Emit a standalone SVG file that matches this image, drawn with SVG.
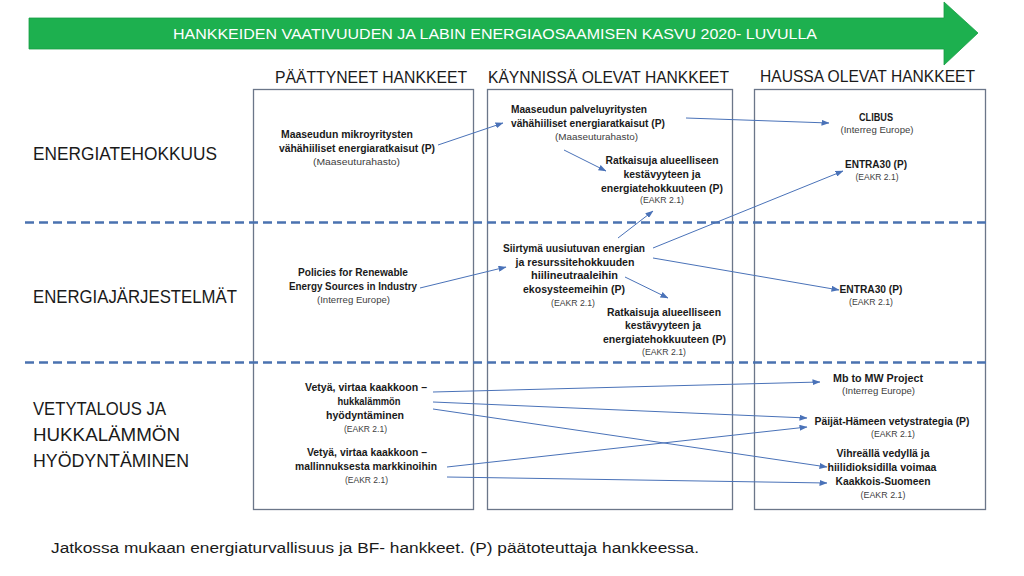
<svg xmlns="http://www.w3.org/2000/svg" width="1024" height="576" viewBox="0 0 1024 576">
<style>
text{font-family:"Liberation Sans",Arial,sans-serif;fill:#1a1a1a}
.title{font-size:15px;fill:#ffffff}
.hdr{font-size:17px}
.row{font-size:19px}
.b{font-size:10px;font-weight:bold}
.s{font-size:8.5px;fill:#404040}
.foot{font-size:15.5px}
.box{fill:none;stroke:#6b7689;stroke-width:1.3}
.dash{stroke:#4a72b0;stroke-width:2.6;stroke-dasharray:9 5;fill:none}
.conn line{stroke:#4a72b8;stroke-width:1;marker-end:url(#ah)}
</style>
<defs>
<marker id="ah" markerUnits="userSpaceOnUse" markerWidth="8" markerHeight="6" refX="7.5" refY="3" orient="auto">
<path d="M0,0 L8,3 L0,6 z" fill="#4a72b8"/>
</marker>
</defs>
<rect width="1024" height="576" fill="#ffffff"/>

<g id="banner">
<path d="M29,18 L944,18 L944,2 L978,33 L944,65 L944,49 L29,49 z" fill="#1db04f" stroke="#17a044" stroke-width="0.8"/>
<text class="title" x="173" y="38.5" textLength="644" lengthAdjust="spacingAndGlyphs">HANKKEIDEN VAATIVUUDEN JA LABIN ENERGIAOSAAMISEN KASVU 2020- LUVULLA</text>
</g>

<g id="headers">
<text class="hdr" x="275" y="83" textLength="192" lengthAdjust="spacingAndGlyphs">PÄÄTTYNEET HANKKEET</text>
<text class="hdr" x="488" y="83" textLength="241" lengthAdjust="spacingAndGlyphs">KÄYNNISSÄ OLEVAT HANKKEET</text>
<text class="hdr" x="760" y="82" textLength="215" lengthAdjust="spacingAndGlyphs">HAUSSA OLEVAT HANKKEET</text>
</g>

<g id="columns">
<rect class="box" x="253.5" y="89.5" width="220" height="420"/>
<rect class="box" x="487.5" y="89.5" width="245" height="420"/>
<rect class="box" x="754.5" y="89.5" width="231" height="420"/>
</g>

<g id="separators">
<line class="dash" x1="25" y1="222.5" x2="986" y2="222.5"/>
<line class="dash" x1="25" y1="362.5" x2="986" y2="362.5"/>
</g>

<g id="row-labels">
<text class="row" x="33" y="160" textLength="184" lengthAdjust="spacingAndGlyphs">ENERGIATEHOKKUUS</text>
<text class="row" x="33" y="303" textLength="204" lengthAdjust="spacingAndGlyphs">ENERGIAJÄRJESTELMÄT</text>
<text class="row" x="33" y="415" textLength="133" lengthAdjust="spacingAndGlyphs">VETYTALOUS JA</text>
<text class="row" x="33" y="441" textLength="147" lengthAdjust="spacingAndGlyphs">HUKKALÄMMÖN</text>
<text class="row" x="33" y="467" textLength="156" lengthAdjust="spacingAndGlyphs">HYÖDYNTÄMINEN</text>
</g>

<g id="n-mikroyritys">
<text class="b" x="281" y="138" textLength="132" lengthAdjust="spacingAndGlyphs">Maaseudun mikroyritysten</text>
<text class="b" x="279" y="152" textLength="156" lengthAdjust="spacingAndGlyphs">vähähiiliset energiaratkaisut (P)</text>
<text class="s" x="356.5" y="165" text-anchor="middle" textLength="87" lengthAdjust="spacingAndGlyphs">(Maaseuturahasto)</text>
</g>

<g id="n-palveluyritys">
<text class="b" x="511" y="113" textLength="136" lengthAdjust="spacingAndGlyphs">Maaseudun palveluyritysten</text>
<text class="b" x="511" y="127" textLength="154" lengthAdjust="spacingAndGlyphs">vähähiiliset energiaratkaisut (P)</text>
<text class="s" x="596.5" y="139.5" text-anchor="middle" textLength="83" lengthAdjust="spacingAndGlyphs">(Maaseuturahasto)</text>
</g>

<g id="n-ratkaisuja1">
<text class="b" x="662" y="164" text-anchor="middle" textLength="113" lengthAdjust="spacingAndGlyphs">Ratkaisuja alueelliseen</text>
<text class="b" x="662" y="178" text-anchor="middle" textLength="77" lengthAdjust="spacingAndGlyphs">kestävyyteen ja</text>
<text class="b" x="662" y="192" text-anchor="middle" textLength="122" lengthAdjust="spacingAndGlyphs">energiatehokkuuteen (P)</text>
<text class="s" x="662" y="202.5" text-anchor="middle" textLength="44" lengthAdjust="spacingAndGlyphs">(EAKR 2.1)</text>
</g>

<g id="n-clibus">
<text class="b" x="876" y="121" text-anchor="middle" textLength="34" lengthAdjust="spacingAndGlyphs">CLIBUS</text>
<text class="s" x="877" y="133" text-anchor="middle" textLength="73" lengthAdjust="spacingAndGlyphs">(Interreg Europe)</text>
</g>

<g id="n-entra30-1">
<text class="b" x="876" y="168" text-anchor="middle" textLength="62" lengthAdjust="spacingAndGlyphs">ENTRA30 (P)</text>
<text class="s" x="877" y="180" text-anchor="middle" textLength="43" lengthAdjust="spacingAndGlyphs">(EAKR 2.1)</text>
</g>

<g id="n-policies">
<text class="b" x="353" y="276" text-anchor="middle" textLength="110" lengthAdjust="spacingAndGlyphs">Policies for Renewable</text>
<text class="b" x="353" y="290" text-anchor="middle" textLength="128" lengthAdjust="spacingAndGlyphs">Energy Sources in Industry</text>
<text class="s" x="353.5" y="303" text-anchor="middle" textLength="73" lengthAdjust="spacingAndGlyphs">(Interreg Europe)</text>
</g>

<g id="n-siirtyma">
<text class="b" x="574" y="252" text-anchor="middle" textLength="142" lengthAdjust="spacingAndGlyphs">Siirtymä uusiutuvan energian</text>
<text class="b" x="575" y="265.5" text-anchor="middle" textLength="119" lengthAdjust="spacingAndGlyphs">ja resurssitehokkuuden</text>
<text class="b" x="574.5" y="279" text-anchor="middle" textLength="87" lengthAdjust="spacingAndGlyphs">hiilineutraaleihin</text>
<text class="b" x="574" y="292.5" text-anchor="middle" textLength="102" lengthAdjust="spacingAndGlyphs">ekosysteemeihin (P)</text>
<text class="s" x="573" y="306" text-anchor="middle" textLength="44" lengthAdjust="spacingAndGlyphs">(EAKR 2.1)</text>
</g>

<g id="n-ratkaisuja2">
<text class="b" x="664" y="315.5" text-anchor="middle" textLength="114" lengthAdjust="spacingAndGlyphs">Ratkaisuja alueelliseen</text>
<text class="b" x="663" y="329" text-anchor="middle" textLength="76" lengthAdjust="spacingAndGlyphs">kestävyyteen ja</text>
<text class="b" x="664.5" y="343" text-anchor="middle" textLength="123" lengthAdjust="spacingAndGlyphs">energiatehokkuuteen (P)</text>
<text class="s" x="664" y="355" text-anchor="middle" textLength="44" lengthAdjust="spacingAndGlyphs">(EAKR 2.1)</text>
</g>

<g id="n-entra30-2">
<text class="b" x="871" y="293" text-anchor="middle" textLength="63" lengthAdjust="spacingAndGlyphs">ENTRA30 (P)</text>
<text class="s" x="871" y="305" text-anchor="middle" textLength="44" lengthAdjust="spacingAndGlyphs">(EAKR 2.1)</text>
</g>

<g id="n-vetya1">
<text class="b" x="366" y="391" text-anchor="middle" textLength="122" lengthAdjust="spacingAndGlyphs">Vetyä, virtaa kaakkoon –</text>
<text class="b" x="369" y="405" text-anchor="middle" textLength="63" lengthAdjust="spacingAndGlyphs">hukkalämmön</text>
<text class="b" x="365" y="419" text-anchor="middle" textLength="78" lengthAdjust="spacingAndGlyphs">hyödyntäminen</text>
<text class="s" x="365.5" y="432" text-anchor="middle" textLength="43" lengthAdjust="spacingAndGlyphs">(EAKR 2.1)</text>
</g>

<g id="n-vetya2">
<text class="b" x="367" y="456" text-anchor="middle" textLength="120" lengthAdjust="spacingAndGlyphs">Vetyä, virtaa kaakkoon –</text>
<text class="b" x="366" y="470" text-anchor="middle" textLength="142" lengthAdjust="spacingAndGlyphs">mallinnuksesta markkinoihin</text>
<text class="s" x="366.5" y="483" text-anchor="middle" textLength="43" lengthAdjust="spacingAndGlyphs">(EAKR 2.1)</text>
</g>

<g id="n-mbtomw">
<text class="b" x="878" y="382" text-anchor="middle" textLength="90" lengthAdjust="spacingAndGlyphs">Mb to MW Project</text>
<text class="s" x="878.5" y="394" text-anchor="middle" textLength="73" lengthAdjust="spacingAndGlyphs">(Interreg Europe)</text>
</g>

<g id="n-paijat">
<text class="b" x="892" y="425" text-anchor="middle" textLength="155" lengthAdjust="spacingAndGlyphs">Päijät-Hämeen vetystrategia (P)</text>
<text class="s" x="893" y="437" text-anchor="middle" textLength="44" lengthAdjust="spacingAndGlyphs">(EAKR 2.1)</text>
</g>

<g id="n-vihrealla">
<text class="b" x="883" y="457" text-anchor="middle" textLength="93" lengthAdjust="spacingAndGlyphs">Vihreällä vedyllä ja</text>
<text class="b" x="882" y="471" text-anchor="middle" textLength="109" lengthAdjust="spacingAndGlyphs">hiilidioksidilla voimaa</text>
<text class="b" x="883" y="485" text-anchor="middle" textLength="95" lengthAdjust="spacingAndGlyphs">Kaakkois-Suomeen</text>
<text class="s" x="883" y="497.5" text-anchor="middle" textLength="45" lengthAdjust="spacingAndGlyphs">(EAKR 2.1)</text>
</g>

<g id="connectors" class="conn">
<line x1="438" y1="145" x2="503" y2="123"/>
<line x1="686" y1="118" x2="829" y2="123"/>
<line x1="564" y1="150" x2="606" y2="171"/>
<line x1="618" y1="238" x2="653" y2="211"/>
<line x1="653" y1="248" x2="843" y2="171"/>
<line x1="653" y1="258" x2="839" y2="290"/>
<line x1="625" y1="277" x2="668" y2="298"/>
<line x1="420" y1="288" x2="506" y2="267"/>
<line x1="433" y1="392" x2="820" y2="382"/>
<line x1="433" y1="402" x2="807" y2="418"/>
<line x1="433" y1="409" x2="827" y2="467"/>
<line x1="447" y1="467" x2="807" y2="427"/>
<line x1="447" y1="477" x2="827" y2="483"/>
</g>

<g id="footer">
<text class="foot" x="51" y="553" textLength="648" lengthAdjust="spacingAndGlyphs">Jatkossa mukaan energiaturvallisuus ja BF- hankkeet. (P) päätoteuttaja hankkeessa.</text>
</g>
</svg>
